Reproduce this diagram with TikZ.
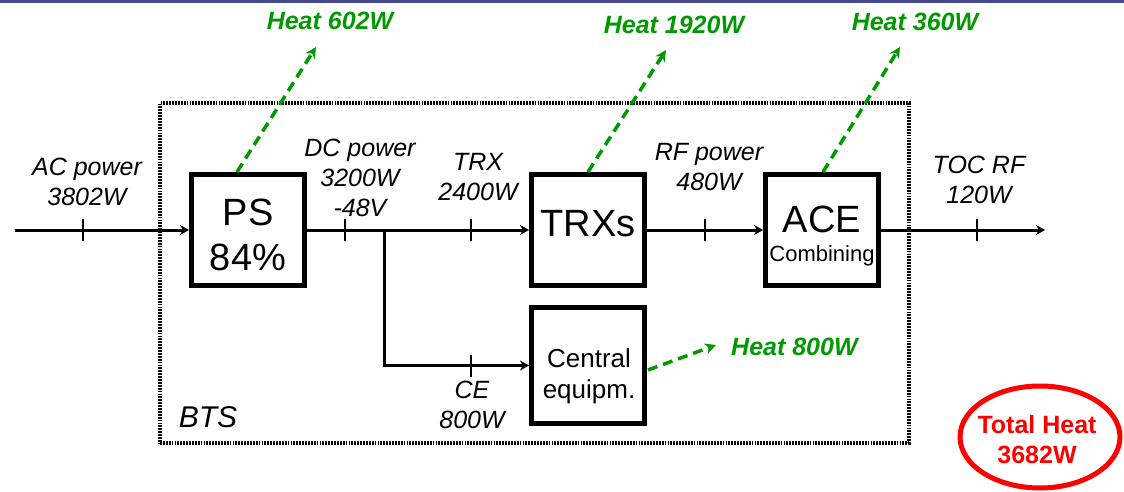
\documentclass[tikz,border=0pt]{standalone}
\usepackage{fontspec}
\setmainfont{Liberation Sans}
\usetikzlibrary{arrows.meta,shapes.geometric}
\definecolor{barblue}{HTML}{44498F}
\definecolor{heatgreen}{HTML}{009900}
\definecolor{totred}{HTML}{FF0000}
\begin{document}
\begin{tikzpicture}[x=1pt,y=-1pt,
  blk/.style={draw=black,line width=5pt,minimum width=113pt,minimum height=111pt,inner sep=0pt,fill=white},
  conn/.style={draw=black,line width=3pt,-{Stealth[length=9pt,width=10pt]}},
  plain/.style={draw=black,line width=3pt},
  tickmark/.style={draw=black,line width=2pt},
  lbl/.style={font=\fontsize{25}{30}\selectfont\itshape,inner sep=0pt,align=center},
  heat/.style={draw=heatgreen,line width=3.5pt,dash pattern=on 10pt off 6pt,-{Stealth[length=11pt,width=11pt]}},
  heatlbl/.style={text=heatgreen,font=\fontsize{25}{30}\selectfont\bfseries\itshape,inner sep=0pt},
  btsbox/.style={draw=black,line width=3.2pt,dash pattern=on 1.8pt off 1.1pt,minimum width=749pt,minimum height=340pt,inner sep=0pt},
  big/.style={font=\fontsize{38}{44}\selectfont,inner sep=0pt},
  cetext/.style={font=\fontsize{26}{31}\selectfont,inner sep=0pt,anchor=base}
]
\useasboundingbox (0,0) rectangle (1124,492);
\fill[barblue] (0,0) rectangle (1124,3);

% BTS frame
\node[btsbox] (bts) at (534.5,273) {};
\node[font=\fontsize{30}{34}\selectfont\itshape,inner sep=0pt] (btslbl) at (208,417) {BTS};

% blocks
\node[blk] (ps) at (248,230) {};
\node[big] (pstxt) at (248,212) {PS};
\node[big] (pseff) at (248,257) {84\%};
\node[blk] (trx) at (588,230) {};
\node[big] (trxtxt) at (588,224) {TRXs};
\node[blk] (ace) at (822,230) {};
\node[big] (acetxt) at (822,219) {ACE};
\node[font=\fontsize{22}{26}\selectfont,inner sep=0pt] (acesub) at (822,256) {Combining};
\node[blk,minimum height=116pt] (ce) at (588,365.5) {};
\node[cetext] (cetxt1) at (589,367) {Central};
\node[cetext] (cetxt2) at (589,398) {equipm.};

% connectors
\coordinate (acin) at (15,230);
\coordinate (br) at (384,230);
\coordinate (rfout) at (1045,230);
\draw[conn] (acin) -- (ps.west);
\draw[conn] (ps.east) -- (trx.west);
\draw[plain] (br) -- (384,365.5);
\draw[conn] (br) |- (ce.west);
\draw[conn] (trx.east) -- (ace.west);
\draw[conn] (ace.east) -- (rfout);

% ticks
\foreach \tx/\ty in {83/230,345/230,471/230,705/230,977/230,471/365.5}
  \draw[tickmark] (\tx,\ty-11) -- (\tx,\ty+11);

% flow labels
\node[lbl] (aclbl) at (87,182) {AC power\\3802W};
\node[lbl] (dclbl) at (360,178) {DC power\\3200W\\-48V};
\node[lbl] (trxlbl) at (478,177) {TRX\\2400W};
\node[lbl] (rflbl) at (709,167) {RF power\\480W};
\node[lbl] (toclbl) at (979,180) {TOC RF\\120W};
\node[lbl] (celbl) at (472,405) {CE\\800W};

% heat flows
\coordinate (h1s) at (237,172);
\coordinate (h1e) at (316,47);
\coordinate (h2s) at (588,172);
\coordinate (h2e) at (666,50);
\coordinate (h3s) at (823,172);
\coordinate (h3e) at (900,47);
\coordinate (h4s) at (648,370);
\coordinate (h4e) at (716,345);
\draw[heat] (h1s) -- (h1e);
\draw[heat] (h2s) -- (h2e);
\draw[heat] (h3s) -- (h3e);
\draw[heat] (h4s) -- (h4e);
\node[heatlbl] (heat1) at (330,21) {Heat 602W};
\node[heatlbl] (heat2) at (674,25) {Heat 1920W};
\node[heatlbl] (heat3) at (915,22) {Heat 360W};
\node[heatlbl,anchor=west] (heat4) at (731,347) {Heat 800W};

% total heat
\node[draw=totred,line width=5pt,ellipse,minimum width=160pt,minimum height=102pt,inner sep=0pt] (tot) at (1040,437) {};
\node[text=totred,font=\fontsize{25}{30}\selectfont\bfseries,align=center,inner sep=0pt] (tottxt) at (1037,440) {Total Heat\\3682W};
\end{tikzpicture}
\end{document}
